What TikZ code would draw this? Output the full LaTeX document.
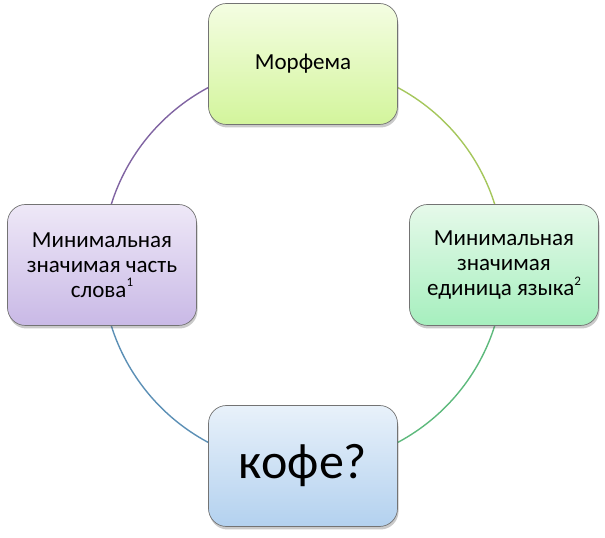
\documentclass[tikz,border=0pt]{standalone}
\usepackage{fontspec}
\setmainfont{Carlito}
\usetikzlibrary{shadows, backgrounds, calc}

\definecolor{arcpurple}{HTML}{8064A2}
\definecolor{arclime}{HTML}{A5C75C}
\definecolor{arcgreen}{HTML}{5DB97C}
\definecolor{arcblue}{HTML}{5B8FB5}
\definecolor{limetop}{HTML}{F4FDE2}
\definecolor{limebot}{HTML}{D3F59C}
\definecolor{mintop}{HTML}{E6F9EA}
\definecolor{minbot}{HTML}{A6EFBE}
\definecolor{skytop}{HTML}{E8F1FA}
\definecolor{skybot}{HTML}{B3D1EF}
\definecolor{lilactop}{HTML}{EEE8F7}
\definecolor{lilacbot}{HTML}{C9B9E6}

% small raised footnote mark
\newcommand{\fnmark}[1]{\raisebox{0.45em}{\fontsize{13}{13}\selectfont #1}}

\begin{document}
\begin{tikzpicture}[
  x=1pt, y=1pt,
  % --- styles ------------------------------------------------------------
  termbox/.style={
    rectangle, draw=black!55, line width=0.7pt, rounded corners=18pt,
    minimum width=189pt, minimum height=121pt,
    font=\fontsize{23}{25}\selectfont, align=center,
    drop shadow={shadow xshift=1pt, shadow yshift=-3pt, opacity=0.35, fill=black!60}
  },
  ring/.style={line width=1.4pt, looseness=1}
]
\useasboundingbox (0,0) rectangle (605,538);

\coordinate (centre) at (303,273);

% --------------------- boxes ------------------------------------------
\node[termbox, top color=limetop, bottom color=limebot]
  (morph) at ($(centre)+(0,201)$) {Морфема};
\node[termbox, top color=mintop, bottom color=minbot]
  (minyaz) at ($(centre)+(201,0)$) {Минимальная\\значимая\\единица языка\fnmark{2}};
\node[termbox, top color=skytop, bottom color=skybot]
  (coffee) at ($(centre)+(0,-201)$) {\fontsize{50}{60}\selectfont кофе?};
\node[termbox, top color=lilactop, bottom color=lilacbot]
  (minslovo) at ($(centre)+(-201,0)$) {Минимальная\\значимая часть\\слова\fnmark{1}};

% --------------------- ring behind the boxes ---------------------------
\begin{scope}[on background layer]
\draw[ring, arcpurple] (morph.center) to[out=180, in=90] (minslovo.center);
\draw[ring, arclime] (morph.center) to[out=0, in=90] (minyaz.center);
\draw[ring, arcgreen] (minyaz.center) to[out=270, in=0] (coffee.center);
\draw[ring, arcblue] (minslovo.center) to[out=270, in=180] (coffee.center);
\end{scope}

\end{tikzpicture}
\end{document}
